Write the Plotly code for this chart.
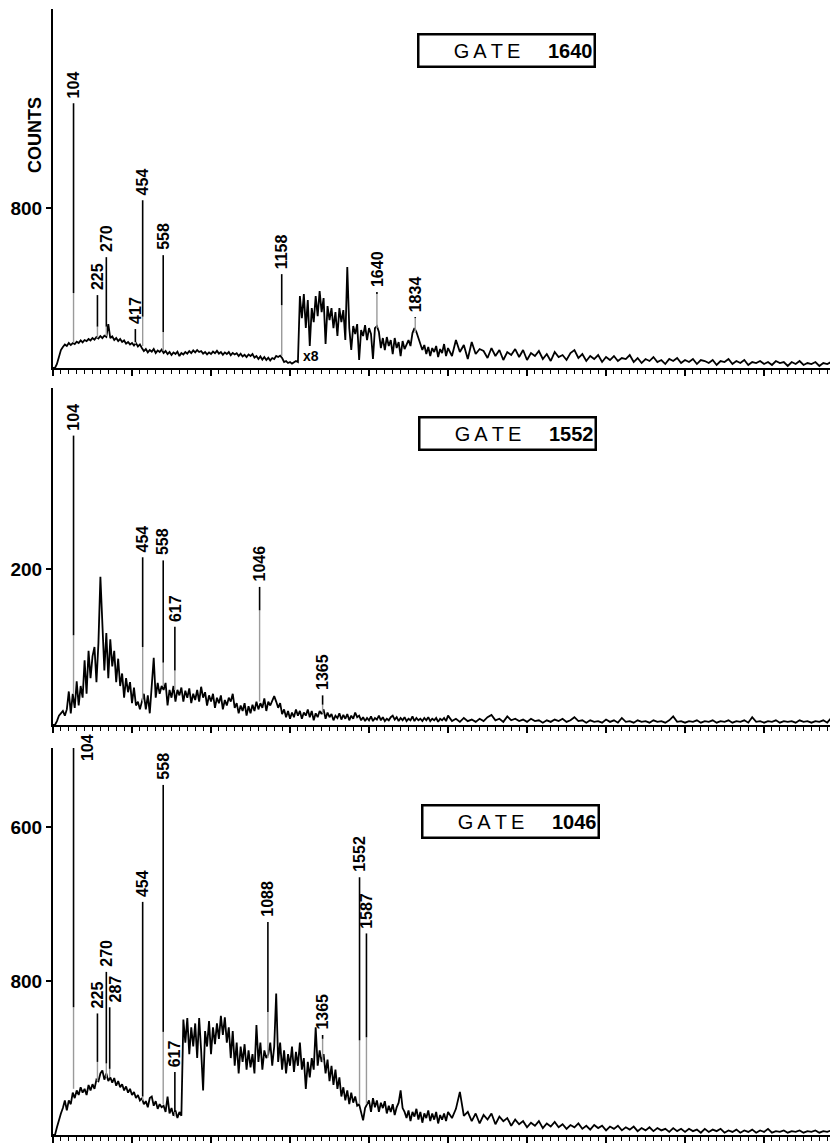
import plotly.graph_objects as go

# ---------------- data ----------------
E_LO = list(range(0, 2000, 10))      # 10 keV channels 0..1990
E_HI = list(range(2000, 4001, 20))   # 20 keV channels 2000..4000
ENERGY = E_LO + E_HI

# Panel 1 : GATE 1640
p1_counts_lo = [
    0, 0, 20, 60, 90, 105, 118, 110, 125, 115,
    125, 120, 132, 125, 138, 128, 140, 135, 145, 138,
    150, 142, 155, 148, 160, 150, 162, 155, 220, 150,
    158, 140, 150, 135, 145, 130, 138, 122, 130, 118,
    125, 112, 125, 108, 118, 100, 85, 95, 78, 90,
    82, 95, 75, 88, 80, 92, 75, 85, 70, 80,
    65, 78, 70, 82, 60, 75, 68, 80, 72, 85,
    75, 88, 78, 90, 80, 85, 72, 80, 68, 78,
    70, 82, 74, 86, 72, 80, 66, 78, 70, 80,
    64, 75, 68, 74, 60, 72, 58, 66, 55, 68,
    60, 70, 52, 60, 45, 58, 42, 55, 40, 52,
    38, 50, 45, 60, 55, 62, 50, 30, 35, 25,
    30, 22, 28, 35, 30, 360, 250, 370, 200, 340,
    110, 300, 230, 360, 260, 385, 280, 350, 120, 310,
    240, 300, 200, 280, 160, 300, 230, 290, 140, 505,
    200, 90, 210, 170, 220, 40, 190, 160, 215, 140,
    200, 170, 45, 200, 210, 180, 100, 150, 90, 155,
    110, 140, 70, 150, 100, 130, 60, 135, 95, 120,
    140, 110, 175, 200, 180, 150, 120, 90, 115, 70,
    105, 60, 100, 80, 110, 55, 95, 75, 120, 60,
]
p1_counts_hi = [
    100, 60, 140, 80, 115, 45, 130, 70, 95, 85,
    50, 100, 60, 90, 40, 80, 65, 95, 55, 90,
    40, 75, 60, 85, 45, 70, 35, 80, 55, 65,
    40, 75, 90, 50, 70, 35, 60, 45, 65, 30,
    55, 40, 60, 35, 50, 45, 65, 30, 50, 25,
    45, 35, 55, 30, 40, 20, 45, 35, 50, 25,
    40, 30, 45, 20, 40, 35, 25, 40, 15, 35,
    30, 45, 20, 35, 25, 40, 15, 30, 25, 35,
    20, 30, 15, 35, 25, 30, 10, 30, 20, 35,
    15, 25, 20, 30, 10, 25, 20, 30, 15, 25,
    20,
]
p1_peak_E = [104, 225, 270, 417, 454, 558, 1158, 1640, 1834]
p1_peak_base = [125, 150, 160, 120, 110, 85, 60, 200, 175]
p1_peak_top = [375, 207, 207, 130, 257, 180, 315, 370, 250]
p1_label_top = [1325, 365, 555, 195, 840, 565, 470, 380, 255]
p1_yticks = [800]
p1_yticktext = ["800"]

# Panel 2 : GATE 1552
p2_counts_lo = [
    0, 0, 5, 12, 15, 18, 12, 20, 43, 15,
    40, 22, 56, 25, 50, 35, 83, 40, 95, 60,
    88, 100, 55, 105, 190, 136, 70, 118, 60, 110,
    75, 95, 55, 85, 50, 66, 35, 60, 42, 55,
    28, 48, 25, 30, 20, 30, 40, 20, 38, 15,
    45, 86, 35, 54, 40, 50, 45, 54, 25, 45,
    35, 50, 30, 45, 38, 48, 30, 44, 35, 47,
    28, 40, 32, 45, 30, 49, 35, 42, 25, 38,
    30, 40, 22, 35, 28, 38, 20, 32, 25, 35,
    30, 40, 22, 28, 15, 25, 18, 28, 12, 24,
    15, 26, 18, 30, 20, 28, 22, 34, 18, 30,
    25, 32, 37, 30, 22, 28, 14, 20, 10, 18,
    8, 16, 10, 20, 12, 18, 8, 16, 12, 20,
    10, 18, 6, 15, 10, 18, 14, 20, 8, 16,
    10, 14, 6, 12, 9, 15, 7, 13, 8, 14,
    6, 12, 8, 16, 10, 12, 6, 10, 5, 9,
    6, 11, 5, 9, 7, 12, 6, 10, 5, 8,
    6, 10, 12, 7, 10, 5, 9, 6, 10, 5,
    8, 6, 11, 5, 9, 6, 8, 5, 9, 6,
    10, 5, 8, 6, 9, 4, 8, 6, 9, 5,
]
p2_counts_hi = [
    12, 5, 8, 4, 9, 5, 7, 4, 8, 5,
    10, 13, 6, 8, 4, 11, 6, 8, 5, 7,
    4, 8, 5, 6, 3, 6, 4, 7, 5, 8,
    4, 6, 10, 5, 6, 3, 6, 4, 5, 3,
    7, 4, 6, 3, 9, 4, 5, 3, 6, 4,
    5, 3, 6, 4, 5, 3, 6, 11, 4, 5,
    3, 5, 4, 6, 3, 5, 4, 6, 3, 5,
    4, 6, 3, 5, 4, 6, 3, 10, 4, 5,
    3, 5, 4, 6, 3, 5, 4, 5, 3, 6,
    4, 5, 3, 5, 4, 6, 3, 9, 4, 5,
    3,
]
p2_peak_E = [104, 454, 558, 617, 1046, 1365]
p2_peak_base = [40, 30, 50, 45, 30, 15]
p2_peak_top = [115, 100, 80, 70, 147, 26]
p2_label_top = [371, 215, 211, 126, 177, 38]
p2_yticks = [200]
p2_yticktext = ["200"]

# Panel 3 : GATE 1046
p3_counts_lo = [
    0, 0, 10, 20, 28, 35, 45, 32, 45, 40,
    55, 48, 58, 52, 62, 55, 60, 52, 65, 58,
    66, 60, 72, 70, 80, 84, 72, 80, 70, 75,
    68, 74, 64, 70, 62, 66, 58, 63, 55, 60,
    52, 56, 48, 52, 45, 48, 40, 44, 36, 48,
    50, 38, 44, 34, 40, 36, 38, 30, 50, 28,
    35, 25, 32, 22, 30, 25, 150, 120, 152, 105,
    140, 115, 145, 100, 152, 110, 58, 135, 115, 148,
    105, 140, 118, 145, 125, 155, 130, 153, 120, 140,
    100, 135, 90, 120, 80, 115, 95, 118, 85, 110,
    88, 105, 80, 143, 95, 120, 85, 110, 100, 105,
    120, 90, 115, 184, 95, 120, 85, 110, 80, 105,
    90, 115, 82, 108, 90, 120, 85, 100, 60, 95,
    75, 100, 85, 140, 90, 110, 95, 105, 80, 98,
    70, 90, 65, 85, 60, 75, 50, 62, 45, 58,
    40, 55, 42, 50, 38, 40, 30, 19, 35, 40,
    45, 30, 48, 36, 45, 30, 42, 35, 44, 28,
    38, 30, 40, 26, 36, 42, 58, 35, 30, 22,
    32, 18, 30, 24, 34, 20, 30, 16, 28, 22,
    32, 18, 28, 20, 30, 15, 26, 20, 28, 18,
]
p3_counts_hi = [
    30, 22, 34, 56, 25, 30, 18, 28, 15, 26,
    20, 28, 14, 24, 18, 22, 12, 20, 14, 18,
    10, 16, 12, 18, 9, 15, 11, 17, 10, 14,
    8, 13, 10, 15, 8, 12, 7, 13, 9, 12,
    6, 11, 8, 12, 6, 10, 7, 11, 5, 9,
    6, 10, 5, 9, 6, 8, 4, 9, 5, 8,
    4, 8, 5, 7, 3, 8, 4, 7, 5, 8,
    3, 6, 4, 7, 3, 6, 4, 7, 3, 6,
    4, 8, 3, 5, 4, 6, 3, 5, 4, 6,
    3, 5, 4, 6, 3, 5, 4, 6, 3, 5,
    4,
]
p3_peak_E = [104, 225, 270, 287, 454, 558, 617, 1088, 1365, 1552, 1587]
p3_peak_base = [60, 70, 75, 75, 45, 40, 24, 100, 95, 40, 40]
p3_peak_top = [166, 95, 93, 86, 50, 134, 30, 160, 125, 123, 127]
p3_label_top = [503, 158, 212, 166, 303, 455, 82, 277, 130, 335, 262]
p3_yticks = [200, 400]
p3_yticktext = ["800", "600"]

gates = ["1640", "1552", "1046"]

# ---------------- figure ----------------
# the page body has an 8px margin, so the figure is drawn 8px smaller and
# every reference pixel position is shifted by OFF.
OFF = 8
W, H = 838 - OFF, 1143 - OFF
AX_X = 53                      # reference x of the y-axis line
L = AX_X - OFF

def px(x):   # reference x pixel -> paper
    return (x - OFF - L) / (W - L)

def py(y):   # reference y pixel -> paper
    return 1 - (y - OFF) / H

Y_RANGES = [1800, 432, 503]
DOMAINS = [(py(368), py(8.5)), (py(725), py(388)), (py(1135), py(748))]
X_MAX = (838 - AX_X - OFF) / 0.1955   # keV at the right edge of the drawing
GATE_POS = [(px(506), py(50.5)), (px(507), py(433)), (px(510.5), py(821.5))]

panels = [
    (p1_counts_lo + p1_counts_hi, p1_peak_E, p1_peak_base, p1_peak_top, p1_label_top, p1_yticks, p1_yticktext),
    (p2_counts_lo + p2_counts_hi, p2_peak_E, p2_peak_base, p2_peak_top, p2_label_top, p2_yticks, p2_yticktext),
    (p3_counts_lo + p3_counts_hi, p3_peak_E, p3_peak_base, p3_peak_top, p3_label_top, p3_yticks, p3_yticktext),
]

for i, p in enumerate(panels):
    if len(p[0]) != len(ENERGY):
        raise SystemExit(f"panel {i+1}: {len(p[0])} counts vs {len(ENERGY)} channels")

fig = go.Figure()
annotations = []
LABEL_FONT = dict(family="Liberation Sans, Arial", size=16, color="black")

def vsegs(xs, a, b):
    X, Y = [], []
    for x, y0, y1 in zip(xs, a, b):
        X += [x, x, None]
        Y += [y0, y1, None]
    return X, Y

for i, (counts, pE, pb, pt, lt, yt, ytt) in enumerate(panels):
    n = "" if i == 0 else str(i + 1)
    xa, ya = "x" + n, "y" + n
    fig.add_trace(go.Scatter(x=ENERGY, y=counts, mode="lines", xaxis=xa, yaxis=ya,
                             line=dict(color="black", width=1.8),
                             showlegend=False, hoverinfo="skip"))
    gx, gy = vsegs(pE, pb, pt)
    fig.add_trace(go.Scatter(x=gx, y=gy, mode="lines", xaxis=xa, yaxis=ya,
                             line=dict(color="#9a9a9a", width=1.4), showlegend=False, hoverinfo="skip"))
    lx, ly = vsegs(pE, pt, lt)
    fig.add_trace(go.Scatter(x=lx, y=ly, mode="lines", xaxis=xa, yaxis=ya,
                             line=dict(color="black", width=1.6), showlegend=False, hoverinfo="skip"))
    for e, top in zip(pE, lt):
        a = dict(x=e, y=top, xref=xa, yref=ya, text="<b>%d</b>" % e, textangle=-90,
                 showarrow=False, xanchor="center", yanchor="bottom", yshift=3, font=LABEL_FONT)
        if i == 2 and e == 104:
            a.update(xanchor="left", yanchor="middle", yshift=0, xshift=3)
        if i == 2 and e == 287:
            a.update(xshift=6)
        annotations.append(a)

    # gate box
    gx_, gy_ = GATE_POS[i]
    annotations.append(dict(
        x=gx_, y=gy_, xref="paper", yref="paper", showarrow=False,
        text="G\u2009A\u2009T\u2009E" + "&nbsp;" * 5 + "<b>" + gates[i] + "</b>",
        font=dict(family="Liberation Sans, Arial", size=20, color="black"),
        width=172, height=28, align="right", valign="middle",
        bordercolor="black", borderwidth=2.5, borderpad=1, bgcolor="white",
        xanchor="center", yanchor="middle"))

    fig.layout["xaxis" + n] = dict(
        domain=[0, 1], anchor=ya, range=[0, X_MAX], showline=True, linecolor="black", linewidth=2,
        showgrid=False, zeroline=False, showticklabels=False,
        ticks="outside", tick0=0, dtick=400, ticklen=6, tickwidth=1.5, tickcolor="black",
        minor=dict(ticks="outside", tick0=0, dtick=40, ticklen=4, tickwidth=1, tickcolor="black", showgrid=False))
    fig.layout["yaxis" + n] = dict(
        domain=list(DOMAINS[i]), anchor=xa, range=[0, Y_RANGES[i]], showline=True, linecolor="black",
        linewidth=2, showgrid=False, zeroline=False, ticks="outside", ticklen=5, tickwidth=2,
        tickcolor="black", tickvals=yt, ticktext=ytt, automargin=False,
        tickfont=dict(family="Liberation Sans, Arial", size=19, color="black", weight="bold"))

# x8 scale marker
annotations.append(dict(x=1305, y=60, xref="x", yref="y", text="<b>x8</b>", showarrow=False,
                        font=dict(family="Liberation Sans, Arial", size=14, color="black")))
# COUNTS axis label
annotations.append(dict(x=px(35), y=py(135), xref="paper", yref="paper", xanchor="center", yanchor="middle",
                        text="<b>COUNTS</b>", textangle=-90, showarrow=False,
                        font=dict(family="Liberation Sans, Arial", size=18, color="black")))

fig.update_layout(width=W, height=H, margin=dict(l=L, r=0, t=0, b=0, autoexpand=False),
                  paper_bgcolor="white", plot_bgcolor="white", annotations=annotations,
                  showlegend=False)
fig.write_html("out.html", config={"displayModeBar": False})
